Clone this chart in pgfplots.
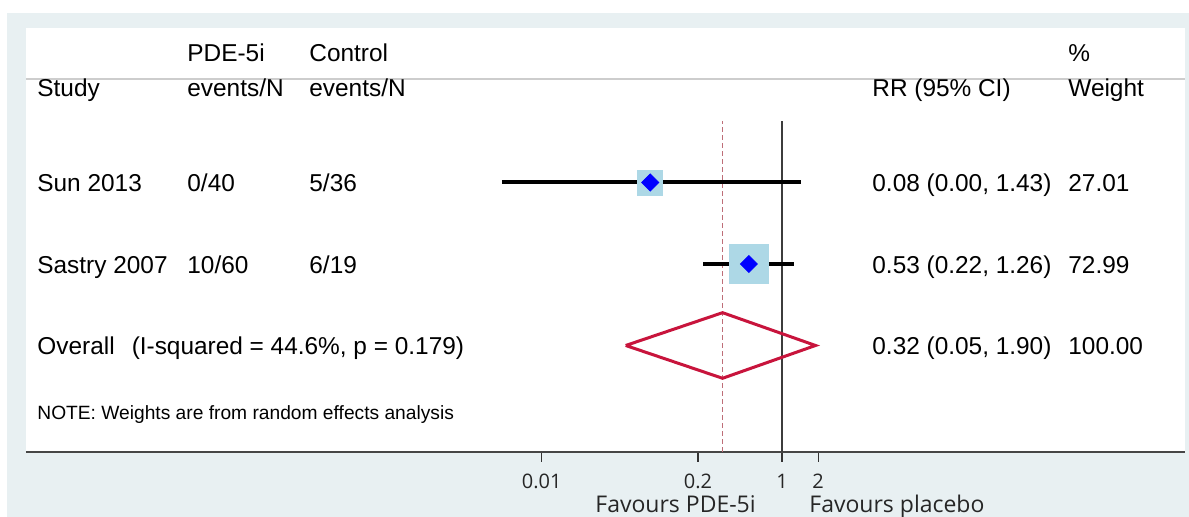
\documentclass[border=0pt]{standalone}
\usepackage{pgfplots}
\pgfplotsset{compat=1.18}
\usepackage{fontspec}
\setmainfont{Liberation Sans}
\newfontfamily\osans{Open Sans}
\definecolor{framegray}{RGB}{232,240,242}
\definecolor{axisdark}{RGB}{70,70,70}
\definecolor{sepgray}{RGB}{205,205,205}
\definecolor{refline}{RGB}{60,60,60}
\definecolor{dashred}{RGB}{190,110,120}
\definecolor{boxblue}{RGB}{173,216,230}
\definecolor{ptblue}{RGB}{0,0,255}
\definecolor{diamred}{RGB}{200,20,60}
\newcommand{\mf}{\fontsize{12.2}{14}\selectfont}
\begin{document}
\begin{tikzpicture}
\useasboundingbox (-13pt,-32.5pt) rectangle (581.5pt,226pt);
\fill[framegray] (-9.5pt,-32.5pt) rectangle (581.5pt,219.5pt);
\begin{axis}[
  scale only axis, width=579.5pt, height=212pt,
  at={(0pt,0pt)}, anchor=south west,
  xmode=log, xmin=5.1e-7, xmax=2259, ymin=-0.307, ymax=4.896,
  axis background/.style={fill=white},
  axis x line*=bottom, axis y line=none,
  x axis line style={-, draw=axisdark, line width=1pt},
  xtick={0.01,0.2,1,2}, xticklabels={0.01,0.2,1,2},
  xminorticks=false, ytick=\empty,
  tick align=outside, major tick length=5pt,
  major tick style={draw=black!80, line width=0.6pt},
  xticklabel style={font=\osans\fontsize{10}{12}\selectfont, text=black!85, yshift=-2.5pt},
  clip=false,
]
% header separator
\draw[sepgray, line width=0.8pt] (rel axis cs:0,0.8794) -- (rel axis cs:1,0.8794);
% reference lines
\addplot[refline, line width=0.6pt] coordinates {(1,-0.307) (1,3.755)};
\addplot[dashred, line width=0.6pt, dash pattern=on 2.4pt off 1.6pt] coordinates {(0.32,-0.307) (0.32,3.755)};
% weight boxes
\addplot[color=boxblue, only marks, mark=square*, mark size=6.25pt] coordinates {(0.08,3)};
\addplot[color=boxblue, only marks, mark=square*, mark size=9.7pt] coordinates {(0.53,2)};
% confidence intervals
\addplot[black, line width=2pt] coordinates {(0.00465,3) (1.43,3)};
\addplot[black, line width=2pt] coordinates {(0.22,2) (1.26,2)};
% point estimates
\addplot[color=ptblue, only marks, mark=square*, mark size=3pt, mark options={rotate=45}] coordinates {(0.08,3) (0.53,2)};
% overall diamond
\addplot[diamred, line width=1.5pt, line join=miter] coordinates {(0.05,1) (0.32,1.4025) (1.90,1) (0.32,0.5975) (0.05,1)};
\end{axis}
% text columns
\begin{scope}[every node/.style={anchor=base west, inner sep=0pt, font=\mf}]
\node at (5.5pt,177.5pt) {Study};
\node at (80.5pt,195pt) {PDE-5i};
\node at (80.5pt,177.5pt) {events/N};
\node at (141.5pt,195pt) {Control};
\node at (141.5pt,177.5pt) {events/N};
\node at (423pt,177.5pt) {RR (95\% CI)};
\node at (521pt,195pt) {\%};
\node at (521pt,177.5pt) {Weight};
\node at (5.5pt,130.2pt) {Sun 2013};
\node at (80.5pt,130.2pt) {0/40};
\node at (141.5pt,130.2pt) {5/36};
\node at (423pt,130.2pt) {0.08 (0.00, 1.43)};
\node at (521pt,130.2pt) {27.01};
\node at (5.5pt,89pt) {Sastry 2007};
\node at (80.5pt,89pt) {10/60};
\node at (141.5pt,89pt) {6/19};
\node at (423pt,89pt) {0.53 (0.22, 1.26)};
\node at (521pt,89pt) {72.99};
\node at (5.5pt,48.5pt) {Overall\hspace{0.7em}(I-squared = 44.6\%, p = 0.179)};
\node at (423pt,48.5pt) {0.32 (0.05, 1.90)};
\node at (521pt,48.5pt) {100.00};
\node[font=\fontsize{9.6}{11}\selectfont] at (5.5pt,16pt) {NOTE: Weights are from random effects analysis};
\end{scope}
\node[anchor=base west, inner sep=0pt, font=\osans\fontsize{11.5}{13}\selectfont, text=black!85] at (284.5pt,-30.5pt) {Favours PDE-5i};
\node[anchor=base west, inner sep=0pt, font=\osans\fontsize{11.5}{13}\selectfont, text=black!85] at (391.5pt,-30.5pt) {Favours placebo};
\end{tikzpicture}
\end{document}
